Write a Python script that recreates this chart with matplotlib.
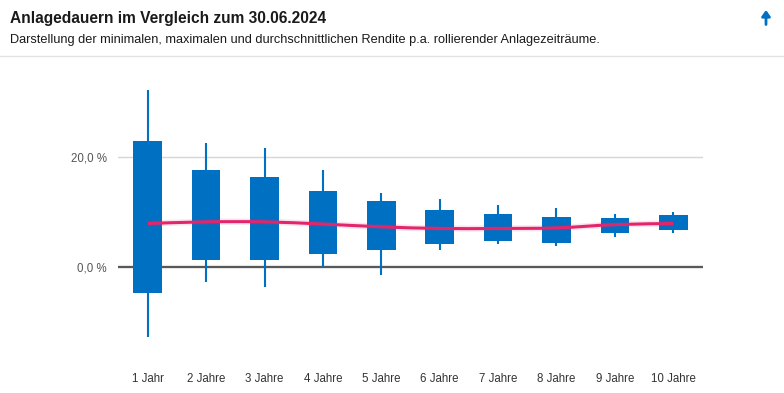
import matplotlib

matplotlib.use("Agg")
import matplotlib.pyplot as plt
from matplotlib.path import Path
from matplotlib.patches import PathPatch, FancyArrowPatch

# Daten (Rendite p.a. in %)
kategorien = ["1 Jahr", "2 Jahre", "3 Jahre", "4 Jahre", "5 Jahre",
              "6 Jahre", "7 Jahre", "8 Jahre", "9 Jahre", "10 Jahre"]
minimum = [-12.7, -2.7, -3.6, 0.0, -1.4, 3.0, 4.2, 3.8, 5.5, 6.2]
box_unten = [-4.8, 1.2, 1.3, 2.4, 3.0, 4.2, 4.8, 4.4, 6.2, 6.7]
box_oben = [22.9, 17.6, 16.4, 13.8, 12.0, 10.4, 9.6, 9.1, 8.9, 9.5]
maximum = [32.2, 22.6, 21.6, 17.6, 13.5, 12.4, 11.3, 10.7, 9.6, 10.0]
durchschnitt = [7.9, 8.2, 8.2, 7.8, 7.3, 7.0, 7.0, 7.1, 7.7, 7.9]
y_ticks = [0, 20]
y_labels = ["0,0 %", "20,0 %"]

BLAU = "#0070c3"
PINK = "#e3266c"
W, H = 784, 393

fig = plt.figure(figsize=(W / 100, H / 100), dpi=100)
plt.rcParams["font.family"] = ["Liberation Sans", "DejaVu Sans"]

# Kopfbereich
fig.text(10 / W, 1 - 18 / H, "Anlagedauern im Vergleich zum 30.06.2024",
         fontsize=11.2, weight="bold", color="#1a1a1a", va="center")
fig.text(10 / W, 1 - 40 / H,
         "Darstellung der minimalen, maximalen und durchschnittlichen Rendite p.a. "
         "rollierender Anlagezeiträume.",
         fontsize=9.2, color="#1a1a1a", va="center")
fig.add_artist(FancyArrowPatch((766 / W, 1 - 24.5 / H), (766 / W, 1 - 10 / H),
                               transform=fig.transFigure, color=BLAU, lw=2.0,
                               arrowstyle="-|>,head_length=0.35,head_width=0.25",
                               mutation_scale=10, shrinkA=0, shrinkB=0))
fig.add_artist(plt.Line2D([0, 1], [1 - 55.5 / H] * 2, color="#e2e2e2", lw=1))

ax = fig.add_axes([118 / W, 1 - 365 / H, (703 - 118) / W, (365 - 60) / H])
x = list(range(len(kategorien)))

# Whisker und Boxen
ax.vlines(x, minimum, maximum, color=BLAU, lw=1.5, zorder=3)
ax.bar(x, [o - u for o, u in zip(box_oben, box_unten)], bottom=box_unten,
       width=0.49, color=BLAU, zorder=4)

# Durchschnitt als geglättete Linie
pts = list(zip(x, durchschnitt))
verts, codes = [pts[0]], [Path.MOVETO]
for i in range(len(pts) - 1):
    p0 = pts[max(i - 1, 0)]
    p1, p2 = pts[i], pts[i + 1]
    p3 = pts[min(i + 2, len(pts) - 1)]
    c1 = (p1[0] + (p2[0] - p0[0]) / 6, p1[1] + (p2[1] - p0[1]) / 6)
    c2 = (p2[0] - (p3[0] - p1[0]) / 6, p2[1] - (p3[1] - p1[1]) / 6)
    verts += [c1, c2, p2]
    codes += [Path.CURVE4] * 3
pfad = Path(verts, codes)
ax.add_patch(PathPatch(pfad, fill=False, edgecolor=PINK, lw=4.5, alpha=0.12, zorder=5))
ax.add_patch(PathPatch(pfad, fill=False, edgecolor=PINK, lw=2.2, zorder=6))

# Achsen
ax.set_xlim(-0.51, 9.51)
ax.set_ylim(-17.8, 37.6)
ax.axhline(20, color="#d6d6d6", lw=1, zorder=1)
ax.axhline(0, color="#e6e6e6", lw=3, zorder=1)
ax.axhline(0, color="#555555", lw=1.4, zorder=2)
ax.set_xticks(x)
ax.set_xticklabels(kategorien, fontsize=8.3, color="#333333")
ax.set_yticks(y_ticks)
ax.set_yticklabels(y_labels, fontsize=8.3, color="#555555")
ax.tick_params(axis="x", length=0, pad=6)
ax.tick_params(axis="y", length=0, pad=8)
for s in ax.spines.values():
    s.set_visible(False)

fig.savefig("out.png", dpi=100)
